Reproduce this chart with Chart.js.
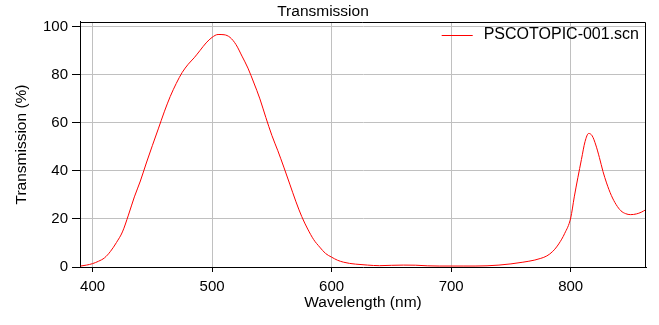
<!DOCTYPE html>
<html>
<head>
<meta charset="utf-8">
<title>Transmission</title>
<script src="https://cdn.jsdelivr.net/npm/chart.js@4.4.0/dist/chart.umd.min.js"></script>
<style>
  body { margin: 0; background: #fff; }
  #wrap { width: 659px; height: 325px; }
</style>
</head>
<body>
<div id="wrap"><canvas id="chart"></canvas></div>
<script>
// Scan: transmission (%) against wavelength (nm)
const wavelength = [
    390, 395, 400, 405, 410, 415, 420, 425, 430, 435,
    440, 445, 450, 455, 460, 465, 470, 475, 480, 485,
    490, 495, 500, 505, 510, 515, 520, 525, 530, 535,
    540, 545, 550, 555, 560, 565, 570, 575, 580, 585,
    590, 595, 600, 605, 610, 615, 620, 630, 640, 650,
    660, 670, 680, 690, 700, 710, 720, 730, 740, 750,
    760, 770, 775, 780, 785, 790, 795, 800, 803, 806,
    809, 812, 815, 818, 821, 824, 827, 830, 834, 838,
    842, 846, 850, 855, 859, 863
];
const transmission = [
    0.4, 0.8, 1.4, 2.4, 3.8, 6.5, 10.2, 14.6, 21.6, 29.2,
    35.8, 43.3, 50.5, 57.5, 64.6, 71.0, 76.4, 81.0, 84.4, 87.1,
    90.2, 93.3, 95.6, 96.8, 96.7, 95.6, 92.6, 87.8, 82.8, 76.6,
    70.0, 62.2, 54.8, 48.4, 41.6, 34.5, 27.4, 21.0, 15.8, 11.4,
    8.3, 5.6, 4.1, 2.8, 2.0, 1.5, 1.2, 0.8, 0.55, 0.7,
    0.8, 0.75, 0.5, 0.4, 0.4, 0.4, 0.4, 0.5, 0.8, 1.3,
    2.0, 2.9, 3.6, 4.6, 6.5, 9.6, 14.0, 20.4, 29.2, 37.2,
    44.8, 52.2, 55.6, 54.6, 50.8, 45.6, 39.8, 35.0, 29.8, 26.0,
    23.4, 22.2, 21.8, 22.1, 22.8, 23.9
];
const xTicks = [400, 500, 600, 700, 800];
const yTicks = [0, 20, 40, 60, 80, 100];
const seriesName = 'PSCOTOPIC-001.scn';

const FONT = 'Arial, "Liberation Sans", sans-serif';

const points = wavelength.map((w, i) => ({ x: w, y: transmission[i] }));

// top/right frame of the plot box
const frame = {
    id: 'frame',
    afterDraw(chart) {
        const { ctx, chartArea: a } = chart;
        ctx.save();
        ctx.strokeStyle = '#000';
        ctx.lineWidth = 1;
        ctx.beginPath();
        ctx.moveTo(a.left, a.top + 0.5);
        ctx.lineTo(a.right - 0.5, a.top + 0.5);
        ctx.lineTo(a.right - 0.5, a.bottom);
        ctx.stroke();
        ctx.restore();
    }
};

// legend entry in the top right corner of the plot
const cornerLegend = {
    id: 'cornerLegend',
    afterDraw(chart) {
        const { ctx, chartArea: a } = chart;
        const ds = chart.data.datasets[0];
        ctx.save();
        ctx.font = '16px ' + FONT;
        ctx.fillStyle = '#000';
        ctx.textAlign = 'right';
        ctx.textBaseline = 'middle';
        const tx = a.right - 7;
        const ty = a.top + 13;
        ctx.fillText(ds.label, tx, ty);
        const w = ctx.measureText(ds.label).width;
        const lx = tx - w - 11;
        ctx.strokeStyle = ds.borderColor;
        ctx.lineWidth = 1;
        ctx.beginPath();
        ctx.moveTo(lx - 31, Math.round(ty) + 0.5);
        ctx.lineTo(lx, Math.round(ty) + 0.5);
        ctx.stroke();
        ctx.restore();
    }
};

new Chart(document.getElementById('chart'), {
    type: 'line',
    data: {
        datasets: [{
            label: seriesName,
            data: points,
            borderColor: '#ff0000',
            borderWidth: 1,
            pointRadius: 0,
            cubicInterpolationMode: 'monotone',
            fill: false
        }]
    },
    options: {
        responsive: true,
        maintainAspectRatio: false,
        animation: false,
        layout: { padding: { right: 13 } },
        plugins: {
            legend: { display: false },
            tooltip: { enabled: false },
            title: {
                display: true,
                text: 'Transmission',
                color: '#000',
                font: { family: FONT, size: 15.5, weight: 'normal' },
                padding: { top: 2, bottom: 1.4 }
            }
        },
        scales: {
            x: {
                type: 'linear',
                min: 389.5,
                max: 863,
                afterFit: s => { s.height = 58; },
                afterBuildTicks: s => { s.ticks = xTicks.map(v => ({ value: v })); },
                ticks: {
                    color: '#000',
                    font: { family: FONT, size: 15 },
                    padding: 6,
                    maxRotation: 0
                },
                grid: { color: '#c0c0c0', tickColor: '#000', tickLength: 5 },
                border: { color: '#000' },
                title: {
                    display: true,
                    text: 'Wavelength (nm)',
                    color: '#000',
                    font: { family: FONT, size: 15.5 },
                    padding: { top: 0, bottom: 12.7 }
                }
            },
            y: {
                min: 0,
                max: 102,
                afterFit: s => { s.width = 80; },
                afterBuildTicks: s => { s.ticks = yTicks.map(v => ({ value: v })); },
                ticks: {
                    color: '#000',
                    font: { family: FONT, size: 15 },
                    padding: 4
                },
                grid: { color: '#c0c0c0', tickColor: '#000', tickLength: 8 },
                border: { color: '#000' },
                title: {
                    display: true,
                    text: 'Transmission (%)',
                    color: '#000',
                    font: { family: FONT, size: 15.5 },
                    padding: { top: 12.7, bottom: 0 }
                }
            }
        }
    },
    plugins: [frame, cornerLegend]
});
</script>
</body>
</html>
